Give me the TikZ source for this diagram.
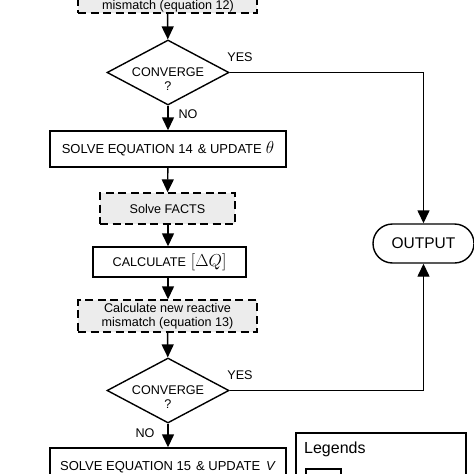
\documentclass[tikz,border=0pt]{standalone}
\usepackage{fontspec}
\setmainfont{Liberation Sans}
\usetikzlibrary{shapes.geometric,shapes.misc,arrows.meta}
\begin{document}
\begin{tikzpicture}[x=1pt,y=-1pt,
  every node/.style={font=\fontsize{12.6}{14}\selectfont},
  proc/.style={draw,line width=1.4pt,rectangle,inner sep=0pt,align=center},
  dashproc/.style={proc,dash pattern=on 8pt off 4.5pt,fill=gray!15},
  decide/.style={draw,line width=1.4pt,diamond,inner sep=0pt,minimum width=122pt,minimum height=65pt},
  term/.style={draw,line width=1.4pt,rounded rectangle,inner sep=0pt},
  flow/.style={line width=1.4pt,-{Triangle[length=13pt,width=12pt]}},
  lab/.style={inner sep=0pt}]
\useasboundingbox (0,0) rectangle (474,474);
\begin{scope}
\clip (0,0) rectangle (474,474);
% top (cut) dashed box
\node[dashproc,minimum width=179pt,minimum height=35pt] (b0) at (167.5,-4.5) {};
\node[lab] (b0t) at (168,6) {mismatch (equation 12)};
% first decision
\node[decide] (d1) at (168,72.5) {};
\node[lab,align=center] (d1t) at (168,79.5) {CONVERGE\\?};
% solve eq 14
\node[proc,minimum width=236pt,minimum height=36pt,font=\fontsize{13}{15}\selectfont] (b1) at (168,149) {SOLVE EQUATION 14\hspace{5pt}\& UPDATE\hspace{4pt}{\fontsize{19}{19}\selectfont$\theta$}};
% solve facts
\node[dashproc,minimum width=135pt,minimum height=31pt] (b2) at (167.5,208.5) {Solve FACTS};
% calculate dQ
\node[proc,minimum width=153pt,minimum height=30pt] (b3) at (169.5,262) {CALCULATE\hspace{5pt}{\fontsize{17.5}{17.5}\selectfont$\left[\Delta Q\right]$}};
% reactive mismatch
\node[dashproc,minimum width=179pt,minimum height=32pt] (b4) at (167.5,316) {Calculate new reactive\\mismatch (equation 13)};
% second decision
\node[decide] (d2) at (168,390.5) {};
\node[lab,align=center] (d2t) at (168,397.5) {CONVERGE\\?};
% solve eq 15
\node[proc,minimum width=236pt,minimum height=38pt,font=\fontsize{13}{15}\selectfont] (b5) at (168,467) {SOLVE EQUATION 15\hspace{5pt}\& UPDATE\hspace{6pt}\textit{V}};
% output
\node[term,minimum width=101pt,minimum height=39pt] (out) at (423.5,243.5) {\fontsize{15.5}{17}\selectfont OUTPUT};
% legend
\node[draw,line width=1.4pt,rectangle,minimum width=170pt,minimum height=90pt,inner sep=0pt] (leg) at (381,478) {};
\node[lab,anchor=west,font=\fontsize{16}{18}\selectfont] (legt) at (304,449) {Legends};
\node[draw,line width=1.4pt,rectangle,minimum width=35pt,minimum height=20pt,inner sep=0pt] (legbox) at (323.5,479) {};
% connectors
\draw[flow] (b0) -- (d1);
\draw[flow] (d1) -- (b1);
\draw[flow] (b1) -- (b2);
\draw[flow] (b2.south -| b1) -- (b3.north -| b1);
\draw[flow] (b3.south -| b1) -- (b4.north -| b1);
\draw[flow] (b4) -- (d2);
\draw[flow] (d2) -- (b5);
\draw[flow] (d1.east) -| (out.north);
\draw[flow] (d2.east) -| (out.south);
% labels
\node[lab] (yes1) at (240,57) {YES};
\node[lab] (no1) at (188,114) {NO};
\node[lab] (yes2) at (240,375) {YES};
\node[lab] (no2) at (145,433) {NO};
\end{scope}
\end{tikzpicture}
\end{document}
